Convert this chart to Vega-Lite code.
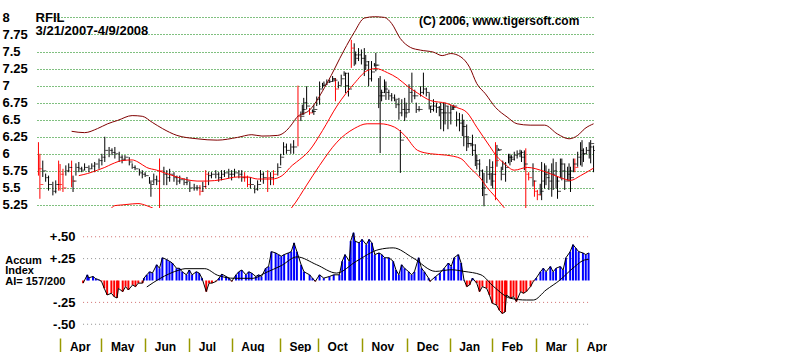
{
  "$schema": "https://vega.github.io/schema/vega-lite/v6.json",
  "background": "white",
  "autosize": {"type": "pad"},
  "padding": {"left": 2, "top": 11, "right": 0, "bottom": 0},
  "config": {"view": {"stroke": null}, "font": "Liberation Sans"},
  "spacing": 16,
  "datasets": {
    "px": [
      {"d":"2007-03-21","h":6.17,"l":5.68,"c":5.78,"k":"r"},
      {"d":"2007-03-22","h":6.0,"l":5.34,"c":5.55,"k":"r"},
      {"d":"2007-03-24","h":5.9,"l":5.66,"c":5.75,"k":"b"},
      {"d":"2007-03-26","h":5.71,"l":5.59,"c":5.65,"k":"b"},
      {"d":"2007-03-28","h":5.68,"l":5.46,"c":5.55,"k":"b"},
      {"d":"2007-03-31","h":5.59,"l":5.39,"c":5.45,"k":"b"},
      {"d":"2007-04-02","h":5.61,"l":5.42,"c":5.55,"k":"b"},
      {"d":"2007-04-04","h":5.9,"l":5.46,"c":5.55,"k":"r"},
      {"d":"2007-04-05","h":5.85,"l":5.46,"c":5.7,"k":"r"},
      {"d":"2007-04-07","h":5.78,"l":5.44,"c":5.5,"k":"r"},
      {"d":"2007-04-09","h":5.83,"l":5.68,"c":5.75,"k":"b"},
      {"d":"2007-04-11","h":5.86,"l":5.73,"c":5.8,"k":"b"},
      {"d":"2007-04-13","h":5.9,"l":5.51,"c":5.6,"k":"r"},
      {"d":"2007-04-14","h":5.68,"l":5.44,"c":5.6,"k":"b"},
      {"d":"2007-04-16","h":5.86,"l":5.68,"c":5.8,"k":"b"},
      {"d":"2007-04-18","h":5.88,"l":5.73,"c":5.78,"k":"b"},
      {"d":"2007-04-20","h":5.81,"l":5.73,"c":5.76,"k":"b"},
      {"d":"2007-04-22","h":5.86,"l":5.76,"c":5.8,"k":"b"},
      {"d":"2007-04-25","h":5.83,"l":5.73,"c":5.78,"k":"b"},
      {"d":"2007-04-27","h":5.86,"l":5.78,"c":5.82,"k":"b"},
      {"d":"2007-04-29","h":5.88,"l":5.73,"c":5.85,"k":"b"},
      {"d":"2007-05-02","h":5.93,"l":5.78,"c":5.9,"k":"b"},
      {"d":"2007-05-04","h":6.0,"l":5.83,"c":5.95,"k":"b"},
      {"d":"2007-05-06","h":6.25,"l":5.88,"c":6.05,"k":"b"},
      {"d":"2007-05-09","h":6.1,"l":5.95,"c":6.05,"k":"b"},
      {"d":"2007-05-11","h":6.08,"l":5.98,"c":6.02,"k":"b"},
      {"d":"2007-05-13","h":6.1,"l":5.93,"c":6.0,"k":"b"},
      {"d":"2007-05-16","h":6.03,"l":5.88,"c":5.95,"k":"b"},
      {"d":"2007-05-18","h":5.98,"l":5.86,"c":5.92,"k":"b"},
      {"d":"2007-05-20","h":5.98,"l":5.9,"c":5.95,"k":"b"},
      {"d":"2007-05-23","h":5.95,"l":5.83,"c":5.88,"k":"b"},
      {"d":"2007-05-25","h":5.86,"l":5.78,"c":5.8,"k":"b"},
      {"d":"2007-05-27","h":5.83,"l":5.76,"c":5.78,"k":"b"},
      {"d":"2007-05-30","h":5.78,"l":5.68,"c":5.72,"k":"b"},
      {"d":"2007-06-01","h":5.76,"l":5.64,"c":5.7,"k":"b"},
      {"d":"2007-06-03","h":5.73,"l":5.66,"c":5.68,"k":"b"},
      {"d":"2007-06-06","h":5.66,"l":5.56,"c":5.6,"k":"b"},
      {"d":"2007-06-07","h":5.59,"l":5.37,"c":5.55,"k":"b"},
      {"d":"2007-06-09","h":5.71,"l":5.56,"c":5.62,"k":"b"},
      {"d":"2007-06-11","h":5.68,"l":5.54,"c":5.6,"k":"b"},
      {"d":"2007-06-13","h":5.93,"l":5.2,"c":5.75,"k":"r"},
      {"d":"2007-06-16","h":5.81,"l":5.54,"c":5.7,"k":"b"},
      {"d":"2007-06-18","h":5.76,"l":5.54,"c":5.65,"k":"b"},
      {"d":"2007-06-20","h":5.78,"l":5.59,"c":5.7,"k":"b"},
      {"d":"2007-06-23","h":5.73,"l":5.59,"c":5.65,"k":"b"},
      {"d":"2007-06-25","h":5.68,"l":5.54,"c":5.6,"k":"b"},
      {"d":"2007-06-27","h":5.68,"l":5.56,"c":5.62,"k":"b"},
      {"d":"2007-06-30","h":5.64,"l":5.54,"c":5.58,"k":"b"},
      {"d":"2007-07-02","h":5.66,"l":5.54,"c":5.6,"k":"b"},
      {"d":"2007-07-04","h":5.59,"l":5.44,"c":5.5,"k":"b"},
      {"d":"2007-07-07","h":5.56,"l":5.46,"c":5.5,"k":"b"},
      {"d":"2007-07-09","h":5.54,"l":5.46,"c":5.5,"k":"b"},
      {"d":"2007-07-11","h":5.54,"l":5.39,"c":5.45,"k":"r"},
      {"d":"2007-07-13","h":5.59,"l":5.44,"c":5.52,"k":"b"},
      {"d":"2007-07-15","h":5.76,"l":5.49,"c":5.7,"k":"r"},
      {"d":"2007-07-17","h":5.73,"l":5.54,"c":5.68,"k":"b"},
      {"d":"2007-07-19","h":5.73,"l":5.64,"c":5.7,"k":"b"},
      {"d":"2007-07-22","h":5.76,"l":5.64,"c":5.7,"k":"b"},
      {"d":"2007-07-24","h":5.73,"l":5.59,"c":5.65,"k":"b"},
      {"d":"2007-07-26","h":5.76,"l":5.61,"c":5.7,"k":"b"},
      {"d":"2007-07-28","h":5.76,"l":5.66,"c":5.72,"k":"b"},
      {"d":"2007-07-31","h":5.78,"l":5.64,"c":5.7,"k":"b"},
      {"d":"2007-08-02","h":5.76,"l":5.61,"c":5.7,"k":"b"},
      {"d":"2007-08-04","h":5.78,"l":5.66,"c":5.72,"k":"b"},
      {"d":"2007-08-07","h":5.76,"l":5.64,"c":5.7,"k":"b"},
      {"d":"2007-08-09","h":5.76,"l":5.59,"c":5.65,"k":"b"},
      {"d":"2007-08-11","h":5.73,"l":5.59,"c":5.65,"k":"r"},
      {"d":"2007-08-13","h":5.68,"l":5.51,"c":5.55,"k":"r"},
      {"d":"2007-08-15","h":5.66,"l":5.49,"c":5.55,"k":"b"},
      {"d":"2007-08-18","h":5.54,"l":5.42,"c":5.48,"k":"b"},
      {"d":"2007-08-20","h":5.61,"l":5.46,"c":5.55,"k":"b"},
      {"d":"2007-08-22","h":5.76,"l":5.59,"c":5.7,"k":"b"},
      {"d":"2007-08-24","h":5.73,"l":5.56,"c":5.65,"k":"b"},
      {"d":"2007-08-27","h":5.76,"l":5.44,"c":5.65,"k":"r"},
      {"d":"2007-08-29","h":5.73,"l":5.54,"c":5.65,"k":"b"},
      {"d":"2007-08-31","h":5.76,"l":5.54,"c":5.7,"k":"r"},
      {"d":"2007-09-03","h":5.86,"l":5.68,"c":5.8,"k":"b"},
      {"d":"2007-09-05","h":6.0,"l":5.83,"c":5.95,"k":"b"},
      {"d":"2007-09-07","h":6.17,"l":5.98,"c":6.1,"k":"b"},
      {"d":"2007-09-09","h":6.15,"l":6.0,"c":6.05,"k":"b"},
      {"d":"2007-09-12","h":6.15,"l":6.0,"c":6.1,"k":"b"},
      {"d":"2007-09-14","h":6.2,"l":6.0,"c":6.1,"k":"b"},
      {"d":"2007-09-17","h":7.0,"l":6.11,"c":6.55,"k":"r"},
      {"d":"2007-09-19","h":6.62,"l":6.48,"c":6.55,"k":"b"},
      {"d":"2007-09-20","h":6.72,"l":6.57,"c":6.65,"k":"b"},
      {"d":"2007-09-21","h":6.82,"l":6.57,"c":6.75,"k":"b"},
      {"d":"2007-09-23","h":6.99,"l":6.65,"c":6.7,"k":"b"},
      {"d":"2007-09-25","h":6.67,"l":6.57,"c":6.6,"k":"r"},
      {"d":"2007-09-27","h":6.65,"l":6.6,"c":6.62,"k":"b"},
      {"d":"2007-09-28","h":6.72,"l":6.57,"c":6.65,"k":"b"},
      {"d":"2007-09-30","h":6.84,"l":6.7,"c":6.8,"k":"b"},
      {"d":"2007-10-02","h":7.06,"l":6.72,"c":6.95,"k":"b"},
      {"d":"2007-10-04","h":7.04,"l":6.96,"c":7.0,"k":"b"},
      {"d":"2007-10-05","h":7.06,"l":6.99,"c":7.02,"k":"b"},
      {"d":"2007-10-07","h":7.09,"l":7.01,"c":7.05,"k":"b"},
      {"d":"2007-10-09","h":7.09,"l":7.04,"c":7.06,"k":"b"},
      {"d":"2007-10-11","h":7.14,"l":7.06,"c":7.1,"k":"b"},
      {"d":"2007-10-12","h":7.11,"l":7.06,"c":7.08,"k":"b"},
      {"d":"2007-10-13","h":7.11,"l":6.77,"c":6.95,"k":"r"},
      {"d":"2007-10-15","h":7.06,"l":6.96,"c":7.0,"k":"b"},
      {"d":"2007-10-17","h":7.16,"l":7.01,"c":7.1,"k":"b"},
      {"d":"2007-10-19","h":7.21,"l":7.14,"c":7.18,"k":"b"},
      {"d":"2007-10-20","h":7.19,"l":6.89,"c":7.0,"k":"b"},
      {"d":"2007-10-22","h":7.19,"l":6.84,"c":6.95,"k":"b"},
      {"d":"2007-10-24","h":7.67,"l":7.26,"c":7.55,"k":"r"},
      {"d":"2007-10-26","h":7.62,"l":7.29,"c":7.45,"k":"b"},
      {"d":"2007-10-27","h":7.5,"l":7.31,"c":7.4,"k":"b"},
      {"d":"2007-10-29","h":7.55,"l":7.36,"c":7.45,"k":"b"},
      {"d":"2007-10-31","h":7.53,"l":7.31,"c":7.4,"k":"b"},
      {"d":"2007-11-02","h":7.55,"l":7.14,"c":7.3,"k":"b"},
      {"d":"2007-11-03","h":7.45,"l":7.23,"c":7.35,"k":"b"},
      {"d":"2007-11-05","h":7.36,"l":6.99,"c":7.1,"k":"b"},
      {"d":"2007-11-07","h":7.36,"l":7.06,"c":7.2,"k":"b"},
      {"d":"2007-11-09","h":7.33,"l":7.28,"c":7.3,"k":"b"},
      {"d":"2007-11-10","h":7.48,"l":7.21,"c":7.3,"k":"b"},
      {"d":"2007-11-12","h":7.11,"l":6.67,"c":6.85,"k":"b"},
      {"d":"2007-11-13","h":7.14,"l":6.01,"c":6.9,"k":"b"},
      {"d":"2007-11-14","h":6.94,"l":6.77,"c":6.85,"k":"b"},
      {"d":"2007-11-16","h":7.09,"l":6.89,"c":6.95,"k":"b"},
      {"d":"2007-11-17","h":7.06,"l":6.79,"c":6.9,"k":"b"},
      {"d":"2007-11-19","h":6.94,"l":6.79,"c":6.85,"k":"b"},
      {"d":"2007-11-21","h":6.89,"l":6.77,"c":6.82,"k":"b"},
      {"d":"2007-11-23","h":6.87,"l":6.77,"c":6.8,"k":"b"},
      {"d":"2007-11-24","h":6.79,"l":6.67,"c":6.72,"k":"b"},
      {"d":"2007-11-26","h":6.82,"l":6.5,"c":6.6,"k":"b"},
      {"d":"2007-11-27","h":6.35,"l":5.72,"c":6.2,"k":"b"},
      {"d":"2007-11-28","h":6.8,"l":6.55,"c":6.65,"k":"b"},
      {"d":"2007-11-30","h":6.82,"l":6.48,"c":6.6,"k":"b"},
      {"d":"2007-12-01","h":6.75,"l":6.53,"c":6.65,"k":"b"},
      {"d":"2007-12-03","h":7.02,"l":6.6,"c":6.9,"k":"b"},
      {"d":"2007-12-05","h":7.19,"l":6.75,"c":6.85,"k":"b"},
      {"d":"2007-12-07","h":6.94,"l":6.8,"c":6.85,"k":"b"},
      {"d":"2007-12-08","h":6.75,"l":6.6,"c":6.65,"k":"b"},
      {"d":"2007-12-10","h":6.7,"l":6.62,"c":6.65,"k":"b"},
      {"d":"2007-12-11","h":6.99,"l":6.84,"c":6.9,"k":"b"},
      {"d":"2007-12-13","h":7.19,"l":6.87,"c":6.95,"k":"b"},
      {"d":"2007-12-15","h":6.97,"l":6.84,"c":6.9,"k":"b"},
      {"d":"2007-12-17","h":6.89,"l":6.65,"c":6.7,"k":"b"},
      {"d":"2007-12-18","h":6.7,"l":6.6,"c":6.65,"k":"b"},
      {"d":"2007-12-20","h":6.8,"l":6.62,"c":6.7,"k":"b"},
      {"d":"2007-12-22","h":6.75,"l":6.6,"c":6.68,"k":"b"},
      {"d":"2007-12-24","h":6.7,"l":6.55,"c":6.65,"k":"b"},
      {"d":"2007-12-25","h":6.75,"l":6.36,"c":6.6,"k":"b"},
      {"d":"2007-12-27","h":6.75,"l":6.33,"c":6.6,"k":"b"},
      {"d":"2007-12-28","h":6.75,"l":6.43,"c":6.7,"k":"b"},
      {"d":"2007-12-30","h":6.7,"l":6.36,"c":6.6,"k":"b"},
      {"d":"2008-01-01","h":6.72,"l":6.43,"c":6.65,"k":"b"},
      {"d":"2008-01-02","h":6.7,"l":6.65,"c":6.68,"k":"b"},
      {"d":"2008-01-03","h":6.72,"l":6.65,"c":6.7,"k":"b"},
      {"d":"2008-01-05","h":6.62,"l":6.4,"c":6.5,"k":"b"},
      {"d":"2008-01-07","h":6.6,"l":6.33,"c":6.45,"k":"b"},
      {"d":"2008-01-09","h":6.58,"l":6.26,"c":6.4,"k":"b"},
      {"d":"2008-01-10","h":6.5,"l":6.11,"c":6.25,"k":"b"},
      {"d":"2008-01-12","h":6.43,"l":6.04,"c":6.15,"k":"b"},
      {"d":"2008-01-13","h":6.26,"l":6.09,"c":6.15,"k":"b"},
      {"d":"2008-01-15","h":6.16,"l":6.11,"c":6.13,"k":"b"},
      {"d":"2008-01-16","h":6.28,"l":5.97,"c":6.05,"k":"b"},
      {"d":"2008-01-18","h":6.14,"l":5.82,"c":5.9,"k":"b"},
      {"d":"2008-01-19","h":5.99,"l":5.77,"c":5.85,"k":"b"},
      {"d":"2008-01-21","h":5.92,"l":5.67,"c":5.75,"k":"b"},
      {"d":"2008-01-23","h":5.77,"l":5.38,"c":5.5,"k":"b"},
      {"d":"2008-01-24","h":5.72,"l":5.23,"c":5.4,"k":"b"},
      {"d":"2008-01-26","h":5.82,"l":5.57,"c":5.7,"k":"b"},
      {"d":"2008-01-28","h":5.92,"l":5.62,"c":5.8,"k":"b"},
      {"d":"2008-01-29","h":5.72,"l":5.53,"c":5.6,"k":"b"},
      {"d":"2008-01-30","h":5.89,"l":5.49,"c":5.7,"k":"b"},
      {"d":"2008-02-01","h":6.17,"l":5.32,"c":5.9,"k":"r"},
      {"d":"2008-02-02","h":6.13,"l":5.81,"c":6.05,"k":"b"},
      {"d":"2008-02-03","h":6.08,"l":6.05,"c":6.06,"k":"b"},
      {"d":"2008-02-05","h":5.81,"l":5.61,"c":5.7,"k":"b"},
      {"d":"2008-02-06","h":5.9,"l":5.76,"c":5.85,"k":"b"},
      {"d":"2008-02-08","h":5.88,"l":5.59,"c":5.8,"k":"b"},
      {"d":"2008-02-10","h":6.0,"l":5.86,"c":5.95,"k":"b"},
      {"d":"2008-02-11","h":6.0,"l":5.83,"c":5.95,"k":"b"},
      {"d":"2008-02-12","h":5.98,"l":5.88,"c":5.92,"k":"b"},
      {"d":"2008-02-14","h":6.03,"l":5.9,"c":5.98,"k":"b"},
      {"d":"2008-02-16","h":6.05,"l":5.93,"c":6.0,"k":"b"},
      {"d":"2008-02-18","h":6.06,"l":5.95,"c":6.02,"k":"b"},
      {"d":"2008-02-19","h":6.05,"l":5.88,"c":5.95,"k":"b"},
      {"d":"2008-02-21","h":6.05,"l":5.76,"c":5.85,"k":"b"},
      {"d":"2008-02-22","h":6.08,"l":5.2,"c":5.7,"k":"r"},
      {"d":"2008-02-24","h":5.73,"l":5.61,"c":5.65,"k":"r"},
      {"d":"2008-02-27","h":5.86,"l":5.52,"c":5.6,"k":"b"},
      {"d":"2008-02-28","h":5.61,"l":5.37,"c":5.45,"k":"r"},
      {"d":"2008-03-01","h":5.47,"l":5.32,"c":5.4,"k":"r"},
      {"d":"2008-03-03","h":5.56,"l":5.39,"c":5.45,"k":"b"},
      {"d":"2008-03-04","h":5.88,"l":5.32,"c":5.6,"k":"b"},
      {"d":"2008-03-06","h":5.86,"l":5.49,"c":5.7,"k":"b"},
      {"d":"2008-03-07","h":5.83,"l":5.54,"c":5.65,"k":"b"},
      {"d":"2008-03-09","h":5.78,"l":5.47,"c":5.6,"k":"b"},
      {"d":"2008-03-11","h":5.86,"l":5.37,"c":5.7,"k":"b"},
      {"d":"2008-03-12","h":5.93,"l":5.47,"c":5.75,"k":"b"},
      {"d":"2008-03-14","h":5.88,"l":5.49,"c":5.6,"k":"b"},
      {"d":"2008-03-15","h":5.66,"l":5.34,"c":5.45,"k":"b"},
      {"d":"2008-03-17","h":5.93,"l":5.64,"c":5.85,"k":"b"},
      {"d":"2008-03-18","h":5.93,"l":5.61,"c":5.75,"k":"b"},
      {"d":"2008-03-20","h":5.86,"l":5.47,"c":5.6,"k":"b"},
      {"d":"2008-03-22","h":5.81,"l":5.61,"c":5.7,"k":"b"},
      {"d":"2008-03-23","h":5.86,"l":5.59,"c":5.75,"k":"b"},
      {"d":"2008-03-24","h":5.81,"l":5.44,"c":5.65,"k":"b"},
      {"d":"2008-03-26","h":5.93,"l":5.73,"c":5.85,"k":"b"},
      {"d":"2008-03-27","h":5.93,"l":5.73,"c":5.8,"k":"r"},
      {"d":"2008-03-29","h":6.03,"l":5.81,"c":5.95,"k":"b"},
      {"d":"2008-03-31","h":6.17,"l":5.83,"c":6.05,"k":"b"},
      {"d":"2008-04-01","h":6.2,"l":5.81,"c":6.0,"k":"b"},
      {"d":"2008-04-02","h":6.08,"l":5.88,"c":6.0,"k":"b"},
      {"d":"2008-04-04","h":6.1,"l":6.0,"c":6.05,"k":"b"},
      {"d":"2008-04-06","h":6.17,"l":5.93,"c":6.1,"k":"b"},
      {"d":"2008-04-07","h":6.2,"l":5.86,"c":6.15,"k":"b"},
      {"d":"2008-04-09","h":6.12,"l":5.73,"c":6.05,"k":"b"}
    ],
    "bands": [
      {"d":"2007-04-13","s":"u","v":6.33},{"d":"2007-04-22","s":"u","v":6.31},{"d":"2007-05-01","s":"u","v":6.37},{"d":"2007-05-08","s":"u","v":6.44},{"d":"2007-05-15","s":"u","v":6.49},{"d":"2007-05-25","s":"u","v":6.56},{"d":"2007-06-01","s":"u","v":6.55},{"d":"2007-06-08","s":"u","v":6.46},{"d":"2007-06-15","s":"u","v":6.37},{"d":"2007-06-25","s":"u","v":6.27},{"d":"2007-07-09","s":"u","v":6.22},{"d":"2007-07-23","s":"u","v":6.2},{"d":"2007-08-06","s":"u","v":6.24},{"d":"2007-08-16","s":"u","v":6.28},{"d":"2007-08-23","s":"u","v":6.26},{"d":"2007-09-03","s":"u","v":6.27},{"d":"2007-09-09","s":"u","v":6.34},{"d":"2007-09-13","s":"u","v":6.44},{"d":"2007-09-16","s":"u","v":6.53},{"d":"2007-09-25","s":"u","v":6.64},{"d":"2007-10-07","s":"u","v":7.03},{"d":"2007-10-19","s":"u","v":7.52},{"d":"2007-10-26","s":"u","v":7.78},{"d":"2007-11-02","s":"u","v":7.99},{"d":"2007-11-09","s":"u","v":8.01},{"d":"2007-11-16","s":"u","v":8.0},{"d":"2007-11-21","s":"u","v":7.91},{"d":"2007-11-27","s":"u","v":7.69},{"d":"2007-12-04","s":"u","v":7.56},{"d":"2007-12-11","s":"u","v":7.52},{"d":"2007-12-20","s":"u","v":7.49},{"d":"2007-12-26","s":"u","v":7.44},{"d":"2008-01-01","s":"u","v":7.47},{"d":"2008-01-08","s":"u","v":7.42},{"d":"2008-01-14","s":"u","v":7.27},{"d":"2008-01-19","s":"u","v":7.03},{"d":"2008-01-25","s":"u","v":6.88},{"d":"2008-02-01","s":"u","v":6.68},{"d":"2008-02-09","s":"u","v":6.54},{"d":"2008-02-16","s":"u","v":6.44},{"d":"2008-02-25","s":"u","v":6.42},{"d":"2008-03-06","s":"u","v":6.42},{"d":"2008-03-15","s":"u","v":6.29},{"d":"2008-03-23","s":"u","v":6.22},{"d":"2008-03-29","s":"u","v":6.27},{"d":"2008-04-03","s":"u","v":6.37},{"d":"2008-04-09","s":"u","v":6.44},
      {"d":"2007-04-18","s":"m","v":5.68},{"d":"2007-04-24","s":"m","v":5.71},{"d":"2007-05-01","s":"m","v":5.76},{"d":"2007-05-06","s":"m","v":5.8},{"d":"2007-05-11","s":"m","v":5.85},{"d":"2007-05-18","s":"m","v":5.9},{"d":"2007-05-25","s":"m","v":5.91},{"d":"2007-05-29","s":"m","v":5.88},{"d":"2007-06-04","s":"m","v":5.8},{"d":"2007-06-11","s":"m","v":5.76},{"d":"2007-06-18","s":"m","v":5.71},{"d":"2007-06-25","s":"m","v":5.66},{"d":"2007-07-02","s":"m","v":5.62},{"d":"2007-07-09","s":"m","v":5.6},{"d":"2007-07-16","s":"m","v":5.6},{"d":"2007-07-26","s":"m","v":5.62},{"d":"2007-08-06","s":"m","v":5.66},{"d":"2007-08-13","s":"m","v":5.66},{"d":"2007-08-20","s":"m","v":5.63},{"d":"2007-08-30","s":"m","v":5.63},{"d":"2007-09-06","s":"m","v":5.68},{"d":"2007-09-13","s":"m","v":5.83},{"d":"2007-09-16","s":"m","v":5.88},{"d":"2007-09-25","s":"m","v":6.05},{"d":"2007-10-04","s":"m","v":6.34},{"d":"2007-10-14","s":"m","v":6.7},{"d":"2007-10-26","s":"m","v":7.03},{"d":"2007-11-04","s":"m","v":7.22},{"d":"2007-11-10","s":"m","v":7.25},{"d":"2007-11-18","s":"m","v":7.19},{"d":"2007-11-25","s":"m","v":7.11},{"d":"2007-12-02","s":"m","v":6.99},{"d":"2007-12-09","s":"m","v":6.89},{"d":"2007-12-18","s":"m","v":6.78},{"d":"2007-12-29","s":"m","v":6.74},{"d":"2008-01-05","s":"m","v":6.68},{"d":"2008-01-12","s":"m","v":6.61},{"d":"2008-01-19","s":"m","v":6.39},{"d":"2008-01-28","s":"m","v":6.11},{"d":"2008-02-02","s":"m","v":5.96},{"d":"2008-02-07","s":"m","v":5.86},{"d":"2008-02-14","s":"m","v":5.76},{"d":"2008-02-23","s":"m","v":5.8},{"d":"2008-03-06","s":"m","v":5.74},{"d":"2008-03-17","s":"m","v":5.65},{"d":"2008-03-24","s":"m","v":5.61},{"d":"2008-03-31","s":"m","v":5.68},{"d":"2008-04-09","s":"m","v":5.79},
      {"d":"2007-04-13","s":"w","v":5.0},{"d":"2007-05-01","s":"w","v":5.12},{"d":"2007-05-10","s":"w","v":5.195},{"d":"2007-05-13","s":"w","v":5.24},{"d":"2007-05-18","s":"w","v":5.25},{"d":"2007-05-25","s":"w","v":5.265},{"d":"2007-05-29","s":"w","v":5.27},{"d":"2007-06-04","s":"w","v":5.24},{"d":"2007-06-09","s":"w","v":5.195},{"d":"2007-06-18","s":"w","v":5.05},{"d":"2007-07-09","s":"w","v":4.98},{"d":"2007-08-06","s":"w","v":5.02},{"d":"2007-08-30","s":"w","v":4.98},{"d":"2007-09-13","s":"w","v":5.22},{"d":"2007-09-23","s":"w","v":5.54},{"d":"2007-10-02","s":"w","v":5.83},{"d":"2007-10-14","s":"w","v":6.17},{"d":"2007-10-26","s":"w","v":6.37},{"d":"2007-11-04","s":"w","v":6.44},{"d":"2007-11-13","s":"w","v":6.44},{"d":"2007-11-23","s":"w","v":6.39},{"d":"2007-11-30","s":"w","v":6.27},{"d":"2007-12-09","s":"w","v":6.05},{"d":"2007-12-18","s":"w","v":6.0},{"d":"2007-12-29","s":"w","v":5.98},{"d":"2008-01-08","s":"w","v":5.93},{"d":"2008-01-14","s":"w","v":5.8},{"d":"2008-01-22","s":"w","v":5.63},{"d":"2008-01-26","s":"w","v":5.51},{"d":"2008-01-31","s":"w","v":5.39},{"d":"2008-02-07","s":"w","v":5.21},{"d":"2008-02-16","s":"w","v":5.0},{"d":"2008-03-15","s":"w","v":4.95},{"d":"2008-04-09","s":"w","v":5.05}
    ],
    "ai": [
      {"d":"2007-04-18","a":-0.03},{"d":"2007-04-21","a":0.065},{"d":"2007-04-22","a":0.03},{"d":"2007-04-25","a":0.046},{"d":"2007-04-27","a":0.02},{"d":"2007-04-29","a":0.01},{"d":"2007-05-01","a":-0.01},{"d":"2007-05-03","a":-0.09},{"d":"2007-05-05","a":-0.165},{"d":"2007-05-08","a":-0.146},{"d":"2007-05-10","a":-0.185},{"d":"2007-05-12","a":-0.2},{"d":"2007-05-13","a":-0.09},{"d":"2007-05-16","a":-0.127},{"d":"2007-05-18","a":-0.07},{"d":"2007-05-20","a":-0.108},{"d":"2007-05-23","a":-0.05},{"d":"2007-05-25","a":-0.07},{"d":"2007-05-27","a":-0.03},{"d":"2007-05-30","a":-0.03},{"d":"2007-05-31","a":0.027},
      {"d":"2007-06-02","a":0.065},{"d":"2007-06-04","a":0.1},{"d":"2007-06-06","a":0.085},{"d":"2007-06-09","a":0.18},{"d":"2007-06-11","a":0.14},{"d":"2007-06-13","a":0.26},{"d":"2007-06-16","a":0.24},{"d":"2007-06-18","a":0.22},{"d":"2007-06-20","a":0.2},{"d":"2007-06-23","a":0.14},{"d":"2007-06-25","a":0.14},{"d":"2007-06-27","a":0.1},{"d":"2007-06-30","a":0.065},
      {"d":"2007-07-02","a":0.12},{"d":"2007-07-04","a":0.065},{"d":"2007-07-07","a":0.1},{"d":"2007-07-09","a":0.085},{"d":"2007-07-11","a":0.027},{"d":"2007-07-14","a":-0.127},{"d":"2007-07-16","a":-0.03},{"d":"2007-07-18","a":-0.03},{"d":"2007-07-21","a":-0.01},{"d":"2007-07-23","a":0.027},{"d":"2007-07-25","a":0.073},{"d":"2007-07-28","a":0.046},{"d":"2007-07-30","a":0.027},
      {"d":"2007-08-01","a":-0.01},{"d":"2007-08-04","a":0.065},{"d":"2007-08-06","a":0.1},{"d":"2007-08-08","a":0.12},{"d":"2007-08-11","a":0.065},{"d":"2007-08-13","a":0.1},{"d":"2007-08-15","a":0.085},{"d":"2007-08-18","a":0.046},{"d":"2007-08-20","a":0.065},{"d":"2007-08-22","a":0.046},{"d":"2007-08-25","a":0.14},{"d":"2007-08-27","a":0.16},{"d":"2007-08-29","a":0.33},
      {"d":"2007-09-01","a":0.315},{"d":"2007-09-03","a":0.296},{"d":"2007-09-05","a":0.277},{"d":"2007-09-07","a":0.296},{"d":"2007-09-10","a":0.315},{"d":"2007-09-12","a":0.33},{"d":"2007-09-14","a":0.43},{"d":"2007-09-16","a":0.33},{"d":"2007-09-19","a":0.18},{"d":"2007-09-21","a":0.1},{"d":"2007-09-25","a":0.065},{"d":"2007-09-27","a":0.027},{"d":"2007-09-29","a":-0.01},
      {"d":"2007-10-02","a":0.065},{"d":"2007-10-05","a":0.027},{"d":"2007-10-09","a":0.046},{"d":"2007-10-12","a":0.065},{"d":"2007-10-16","a":0.065},{"d":"2007-10-18","a":0.22},{"d":"2007-10-20","a":0.296},{"d":"2007-10-23","a":0.22},{"d":"2007-10-24","a":0.45},{"d":"2007-10-26","a":0.546},{"d":"2007-10-27","a":0.45},{"d":"2007-10-30","a":0.43},
      {"d":"2007-11-01","a":0.47},{"d":"2007-11-04","a":0.41},{"d":"2007-11-06","a":0.47},{"d":"2007-11-08","a":0.43},{"d":"2007-11-10","a":0.296},{"d":"2007-11-13","a":0.315},{"d":"2007-11-15","a":0.296},{"d":"2007-11-17","a":0.26},{"d":"2007-11-20","a":0.26},{"d":"2007-11-23","a":0.22},{"d":"2007-11-25","a":0.12},{"d":"2007-11-27","a":0.065},{"d":"2007-11-29","a":0.18},
      {"d":"2007-12-01","a":0.14},{"d":"2007-12-04","a":0.1},{"d":"2007-12-06","a":0.065},{"d":"2007-12-08","a":0.1},{"d":"2007-12-11","a":0.26},{"d":"2007-12-13","a":0.14},{"d":"2007-12-15","a":0.1},{"d":"2007-12-18","a":0.027},{"d":"2007-12-19","a":-0.01},{"d":"2007-12-23","a":0.046},{"d":"2007-12-26","a":0.085},{"d":"2007-12-29","a":0.14},
      {"d":"2008-01-01","a":0.2},{"d":"2008-01-03","a":0.16},{"d":"2008-01-05","a":0.26},{"d":"2008-01-08","a":0.296},{"d":"2008-01-10","a":0.2},{"d":"2008-01-12","a":0.008},{"d":"2008-01-14","a":-0.07},{"d":"2008-01-16","a":-0.05},{"d":"2008-01-18","a":0.027},{"d":"2008-01-21","a":-0.03},{"d":"2008-01-23","a":-0.127},{"d":"2008-01-25","a":-0.07},{"d":"2008-01-28","a":-0.09},{"d":"2008-01-30","a":-0.165},
      {"d":"2008-02-01","a":-0.26},{"d":"2008-02-04","a":-0.28},{"d":"2008-02-06","a":-0.34},{"d":"2008-02-08","a":-0.377},{"d":"2008-02-10","a":-0.36},{"d":"2008-02-11","a":-0.165},{"d":"2008-02-14","a":-0.2},{"d":"2008-02-16","a":-0.185},{"d":"2008-02-18","a":-0.24},{"d":"2008-02-21","a":-0.127},{"d":"2008-02-23","a":-0.146},{"d":"2008-02-25","a":-0.127},{"d":"2008-02-28","a":-0.07},
      {"d":"2008-03-01","a":-0.01},{"d":"2008-03-03","a":0.027},{"d":"2008-03-06","a":0.1},{"d":"2008-03-08","a":0.14},{"d":"2008-03-10","a":0.1},{"d":"2008-03-13","a":0.16},{"d":"2008-03-15","a":0.1},{"d":"2008-03-17","a":0.14},{"d":"2008-03-20","a":0.16},{"d":"2008-03-22","a":0.12},{"d":"2008-03-24","a":0.26},{"d":"2008-03-27","a":0.33},{"d":"2008-03-29","a":0.41},{"d":"2008-03-31","a":0.37},
      {"d":"2008-04-02","a":0.33},{"d":"2008-04-05","a":0.315},{"d":"2008-04-07","a":0.296},{"d":"2008-04-09","a":0.315}
    ],
    "aim": [
      {"d":"2007-06-02","m":-0.074},{"d":"2007-06-11","m":0.02},{"d":"2007-06-25","m":0.12},{"d":"2007-06-29","m":0.135},{"d":"2007-07-13","m":0.135},{"d":"2007-07-22","m":0.06},{"d":"2007-08-03","m":0.025},{"d":"2007-08-16","m":0.025},{"d":"2007-08-25","m":0.09},{"d":"2007-09-05","m":0.17},{"d":"2007-09-16","m":0.27},{"d":"2007-09-30","m":0.18},{"d":"2007-10-14","m":0.085},{"d":"2007-10-28","m":0.22},{"d":"2007-11-13","m":0.354},{"d":"2007-11-23","m":0.373},{"d":"2007-12-07","m":0.258},{"d":"2007-12-23","m":0.104},{"d":"2008-01-03","m":0.123},{"d":"2008-01-12","m":0.104},{"d":"2008-01-24","m":0.065},{"d":"2008-02-02","m":-0.07},{"d":"2008-02-14","m":-0.204},{"d":"2008-02-25","m":-0.223},{"d":"2008-03-01","m":-0.223},{"d":"2008-03-10","m":-0.108},{"d":"2008-03-20","m":0.008},{"d":"2008-03-29","m":0.142},{"d":"2008-04-07","m":0.238},{"d":"2008-04-09","m":0.24}
    ],
    "grid2": [
      {"v":0.5,"d0":"2007-04-18","d1":"2008-04-09"},{"v":0.25,"d0":"2007-04-18","d1":"2008-04-09"},{"v":-0.25,"d0":"2007-04-18","d1":"2008-04-09"},{"v":-0.5,"d0":"2007-04-18","d1":"2008-04-09"}
    ]
  },
  "vconcat": [
    {
      "width": 558,
      "height": 194,
      "layer": [
        {
          "data": {"name": "px"},
          "mark": {"type": "rule", "strokeWidth": 1, "clip": true},
          "encoding": {
            "x": {"field": "d", "type": "temporal", "axis": null,
                  "scale": {"domain": [{"year":2007,"month":3,"date":20},{"year":2008,"month":4,"date":10}]}},
            "y": {"field": "l", "type": "quantitative",
                  "scale": {"domain": [5.205, 8.05], "nice": false, "zero": false},
                  "axis": {"title": null, "values": [5.25,5.5,5.75,6,6.25,6.5,6.75,7,7.25,7.5,7.75,8], "tickCount": 50, "format": ".2~f",
                           "grid": true, "gridColor": "#008000", "gridDash": [1,2], "gridWidth": 1,
                           "domain": false, "ticks": false, "tickSize": 0, "labelAlign": "left", "labelPadding": 35,
                           "labelBaseline": "middle", "labelOverlap": false, "labelBound": false, "labelFlush": false,
                           "labelFont": "Liberation Sans", "labelFontWeight": "bold",
                           "labelFontSize": 13, "labelColor": "#000000"}},
            "y2": {"field": "h"},
            "color": {"field": "k", "type": "nominal", "legend": null,
                      "scale": {"domain": ["b","r","u","m","w"], "range": ["#000000","#ff0000","#800000","#ff0000","#ff0000"]}}
          }
        },
        {
          "data": {"name": "px"},
          "mark": {"type": "tick", "orient": "horizontal", "size": 3, "thickness": 1, "xOffset": 2, "clip": true},
          "encoding": {
            "x": {"field": "d", "type": "temporal", "axis": null},
            "y": {"field": "c", "type": "quantitative"},
            "color": {"field": "k", "type": "nominal", "legend": null}
          }
        },
        {
          "data": {"name": "bands"},
          "mark": {"type": "line", "strokeWidth": 1, "clip": true, "interpolate": "monotone"},
          "encoding": {
            "x": {"field": "d", "type": "temporal", "axis": null},
            "y": {"field": "v", "type": "quantitative"},
            "color": {"field": "s", "type": "nominal", "legend": null}
          }
        },
        {
          "data": {"values": [{"t": "RFIL", "d": "2007-03-19", "p": 7.93}, {"t": "3/21/2007-4/9/2008", "d": "2007-03-19", "p": 7.74}]},
          "mark": {"type": "text", "align": "left", "baseline": "alphabetic", "font": "Liberation Sans", "fontWeight": "bold", "fontSize": 13, "color": "#000000"},
          "encoding": {
            "x": {"field": "d", "type": "temporal", "axis": null},
            "y": {"field": "p", "type": "quantitative"},
            "text": {"field": "t"}
          }
        },
        {
          "data": {"values": [{"t": "(C) 2006, www.tigersoft.com", "d": "2007-12-10", "p": 7.885}]},
          "mark": {"type": "text", "align": "left", "baseline": "alphabetic", "font": "Liberation Sans", "fontWeight": "bold", "fontSize": 12, "color": "#000000"},
          "encoding": {
            "x": {"field": "d", "type": "temporal", "axis": null},
            "y": {"field": "p", "type": "quantitative"},
            "text": {"field": "t"}
          }
        }
      ]
    },
    {
      "width": 558,
      "height": 105,
      "layer": [
        {
          "data": {"name": "grid2"},
          "mark": {"type": "rule", "strokeDash": [1,3], "strokeWidth": 1},
          "encoding": {
            "x": {"field": "d0", "type": "temporal",
                  "scale": {"domain": [{"year":2007,"month":3,"date":20},{"year":2008,"month":4,"date":10}]},
                  "axis": {"title": null, "format": "%b", "domain": false, "grid": false, "tickCount": 50,
                           "values": [{"year":2007,"month":4,"date":2},{"year":2007,"month":5,"date":1},{"year":2007,"month":6,"date":1},{"year":2007,"month":7,"date":2},{"year":2007,"month":8,"date":1},{"year":2007,"month":9,"date":4},{"year":2007,"month":10,"date":1},{"year":2007,"month":11,"date":1},{"year":2007,"month":12,"date":3},{"year":2008,"month":1,"date":2},{"year":2008,"month":2,"date":1},{"year":2008,"month":3,"date":3},{"year":2008,"month":4,"date":1}],
                           "ticks": true, "tickSize": 15, "tickColor": "#999900", "tickWidth": 1.5, "offset": 5,
                           "labelAlign": "left", "labelOffset": 9, "labelPadding": -7, "labelBaseline": "middle",
                           "labelFlush": false, "labelOverlap": false, "labelBound": false,
                           "labelFont": "Liberation Sans", "labelFontWeight": "bold", "labelFontSize": 12, "labelColor": "#000000"}},
            "x2": {"field": "d1"},
            "y": {"field": "v", "type": "quantitative",
                  "scale": {"domain": [-0.6, 0.6], "nice": false, "zero": false},
                  "axis": {"title": null, "values": [-0.5,-0.25,0.25,0.5], "tickCount": 50, "grid": false, "domain": false, "ticks": false, "tickSize": 0,
                           "labelExpr": "datum.value == 0.5 ? '+.50' : datum.value == 0.25 ? '+.25' : datum.value == -0.25 ? '-.25' : '-.50'",
                           "labelAlign": "right", "labelPadding": -38, "labelBaseline": "middle",
                           "labelOverlap": false, "labelBound": false, "labelFlush": false,
                           "labelFont": "Liberation Sans", "labelFontWeight": "bold", "labelFontSize": 13, "labelColor": "#000000"}},
            "color": {"condition": {"test": "datum.v == 0.5 || datum.v == -0.25", "value": "#d07070"}, "value": "#909090"}
          }
        },
        {
          "data": {"name": "ai"},
          "mark": {"type": "bar", "width": 2},
          "encoding": {
            "x": {"field": "d", "type": "temporal"},
            "y": {"field": "a", "type": "quantitative"},
            "color": {"condition": {"test": "datum.a < 0", "value": "#ff0000"}, "value": "#0000ff"}
          }
        },
        {
          "data": {"name": "ai"},
          "mark": {"type": "line", "strokeWidth": 1, "color": "#000000"},
          "encoding": {
            "x": {"field": "d", "type": "temporal"},
            "y": {"field": "a", "type": "quantitative"}
          }
        },
        {
          "data": {"name": "aim"},
          "mark": {"type": "line", "strokeWidth": 1, "color": "#000000", "interpolate": "monotone"},
          "encoding": {
            "x": {"field": "d", "type": "temporal"},
            "y": {"field": "m", "type": "quantitative"}
          }
        },
        {
          "data": {"values": [{"t": "Accum", "d": "2007-02-22", "p": 0.19}, {"t": "Index", "d": "2007-02-22", "p": 0.075}, {"t": "AI= 157/200", "d": "2007-02-22", "p": -0.048}]},
          "mark": {"type": "text", "align": "left", "baseline": "alphabetic", "font": "Liberation Sans", "fontWeight": "bold", "fontSize": 11, "color": "#000000"},
          "encoding": {
            "x": {"field": "d", "type": "temporal"},
            "y": {"field": "p", "type": "quantitative"},
            "text": {"field": "t"}
          }
        }
      ]
    }
  ]
}
